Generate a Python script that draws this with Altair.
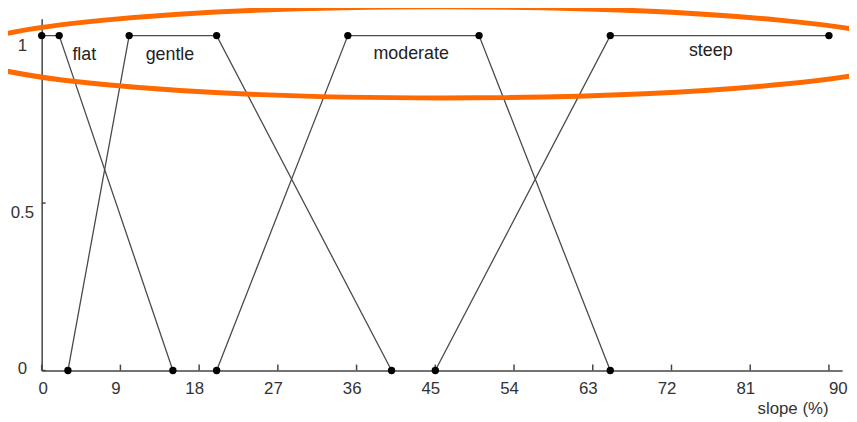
import altair as alt
import pandas as pd

# ---- data ----
set_names = ["flat", "gentle", "moderate", "steep"]
flat_x = [0, 2, 15]
flat_y = [1, 1, 0]
gentle_x = [3, 10, 20, 40]
gentle_y = [0, 1, 1, 0]
moderate_x = [20, 35, 50, 65]
moderate_y = [0, 1, 1, 0]
steep_x = [45, 65, 90]
steep_y = [0, 1, 1]

label_x = [4.87, 14.66, 42.24, 76.49]
label_y = [0.927, 0.928, 0.930, 0.940]

x_ticks = [0, 9, 18, 27, 36, 45, 54, 63, 72, 81, 90]
y_ticks = [0, 0.5, 1]

# annotation ellipse (centre in data units)
ellipse_x = [45.75]
ellipse_y = [0.950]

series = {
    "flat": (flat_x, flat_y),
    "gentle": (gentle_x, gentle_y),
    "moderate": (moderate_x, moderate_y),
    "steep": (steep_x, steep_y),
}
rows = []
for name in set_names:
    xs, ys = series[name]
    for i, (a, b) in enumerate(zip(xs, ys)):
        rows.append({"set": name, "order": i, "x": a, "y": b})
df = pd.DataFrame(rows)
labels_df = pd.DataFrame({"x": label_x, "y": label_y, "text": set_names})
xt_df = pd.DataFrame({"x": x_ticks})
yt_df = pd.DataFrame({"y": y_ticks})
ell_df = pd.DataFrame({"x": ellipse_x, "y": ellipse_y})

W, H = 808, 355
FONT = "Liberation Sans"
AX = "#444444"
TXT = "#333333"

xscale = alt.Scale(domain=[0, 91.5], nice=False, zero=False)
yscale = alt.Scale(domain=[0, 1.05], nice=False, zero=False)

x_axis = alt.Axis(
    values=x_ticks, ticks=False, tickSize=0, grid=False,
    domainColor=AX, domainWidth=1.5,
    labelFont=FONT, labelFontSize=17, labelColor=TXT, labelPadding=10,
    labelFlush=False, format="d",
    labelOffset={"condition": [{"test": "datum.value == 0", "value": 1},
                               {"test": "datum.value == 90", "value": 9}],
                 "value": -5},
    title="slope (%)", titleFont=FONT, titleFontSize=17, titleFontWeight="normal",
    titleColor=TXT, titleX=758, titleY=38, titleBaseline="middle", titleAlign="center",
)
y_axis = alt.Axis(
    values=y_ticks, ticks=False, tickSize=0, grid=False,
    domainColor=AX, domainWidth=1.5,
    labelFont=FONT, labelFontSize=17, labelColor=TXT, labelPadding=20,
    labelAlign="center", labelBaseline="middle", format="~g",
    labelOffset={"condition": {"test": "datum.value == 0", "value": -2}, "value": 10},
    title=None,
)

X = alt.X("x:Q", scale=xscale, axis=x_axis)
Y = alt.Y("y:Q", scale=yscale, axis=y_axis)

lines = alt.Chart(df).mark_line(color="#4a4a4a", strokeWidth=1.3).encode(
    x=X, y=Y, detail="set:N", order="order:Q",
)

points = alt.Chart(df).mark_point(filled=True, color="black", size=55, opacity=1, shape="circle").encode(
    x=X, y=Y,
)

texts = alt.Chart(labels_df).mark_text(
    font=FONT, fontSize=18, color="#222222", align="center", baseline="alphabetic"
).encode(
    x=X, y=Y, text="text:N",
)

xticks = alt.Chart(xt_df).mark_rule(color=AX, strokeWidth=1.5).encode(
    x=X,
    y=alt.value(H - 6),
    y2=alt.value(H),
)

yticks = alt.Chart(yt_df).mark_rule(color=AX, strokeWidth=1.5).encode(
    y=Y,
    x=alt.value(0),
    x2=alt.value(4),
)

ellipse = alt.Chart(ell_df).mark_point(
    shape="M -1 0 A 1 0.0954 0 1 1 1 0 A 1 0.0954 0 1 1 -1 0 Z",
    filled=False, stroke="#ff6a00", strokeWidth=5, opacity=1, size=964 * 964,
).encode(
    x=X, y=Y,
)

chart = alt.layer(lines, xticks, yticks, points, texts, ellipse).properties(
    width=W, height=H,
    autosize=alt.AutoSizeParams(type="none"),
    padding={"left": 34, "top": 9, "right": 7, "bottom": 50},
    background="white",
).configure_view(stroke=None)

chart.save("out.html", embed_options={"renderer": "svg", "actions": False})
